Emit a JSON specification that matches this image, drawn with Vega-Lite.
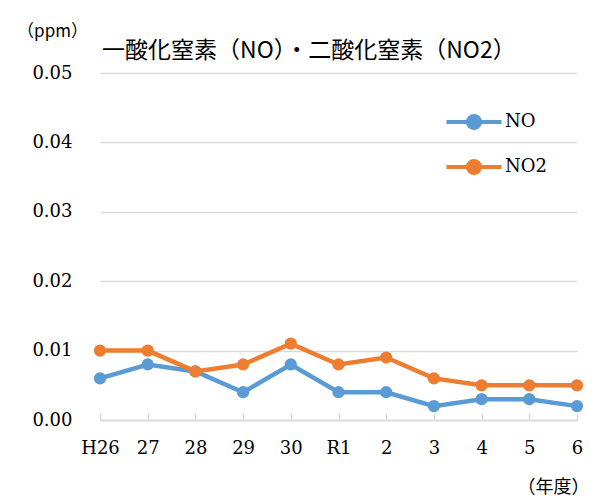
{
  "$schema": "https://vega.github.io/schema/vega-lite/v6.json",
  "width": 477,
  "height": 347,
  "autosize": {"type": "none"},
  "padding": {"left": 100, "top": 73, "right": 25, "bottom": 78},
  "background": "white",
  "title": {
    "text": "一酸化窒素（NO）・二酸化窒素（NO2）",
    "anchor": "start",
    "frame": "group",
    "font": "Noto Sans CJK JP",
    "fontSize": 23,
    "fontWeight": "normal",
    "color": "#000000",
    "offset": 8,
    "dx": 2,
    "dy": 49
  },
  "data": {
    "values": [
      {"year": "H26", "series": "NO", "value": 0.006},
      {"year": "27", "series": "NO", "value": 0.008},
      {"year": "28", "series": "NO", "value": 0.007},
      {"year": "29", "series": "NO", "value": 0.004},
      {"year": "30", "series": "NO", "value": 0.008},
      {"year": "R1", "series": "NO", "value": 0.004},
      {"year": "2", "series": "NO", "value": 0.004},
      {"year": "3", "series": "NO", "value": 0.002},
      {"year": "4", "series": "NO", "value": 0.003},
      {"year": "5", "series": "NO", "value": 0.003},
      {"year": "6", "series": "NO", "value": 0.002},
      {"year": "H26", "series": "NO2", "value": 0.010},
      {"year": "27", "series": "NO2", "value": 0.010},
      {"year": "28", "series": "NO2", "value": 0.007},
      {"year": "29", "series": "NO2", "value": 0.008},
      {"year": "30", "series": "NO2", "value": 0.011},
      {"year": "R1", "series": "NO2", "value": 0.008},
      {"year": "2", "series": "NO2", "value": 0.009},
      {"year": "3", "series": "NO2", "value": 0.006},
      {"year": "4", "series": "NO2", "value": 0.005},
      {"year": "5", "series": "NO2", "value": 0.005},
      {"year": "6", "series": "NO2", "value": 0.005}
    ]
  },
  "mark": {"type": "line", "strokeWidth": 4.5, "point": {"filled": true, "size": 150, "opacity": 1}},
  "encoding": {
    "x": {
      "field": "year",
      "type": "ordinal",
      "sort": null,
      "scale": {"type": "point", "padding": 0},
      "axis": {
        "title": "（年度）",
        "titleFont": "Noto Sans CJK JP",
        "titleFontSize": 18,
        "titleFontWeight": "normal",
        "titleColor": "#000000",
        "titleAngle": 0,
        "titleX": 453,
        "titleY": 67,
        "titleAlign": "center",
        "titleBaseline": "middle",
        "labelAngle": 0,
        "labelFont": "DejaVu Serif",
        "labelFontSize": 18,
        "labelColor": "#000000",
        "labelPadding": 26,
        "domainColor": "#d9d9d9",
        "domainWidth": 1.5,
        "ticks": true,
        "tickColor": "#d9d9d9",
        "tickWidth": 1.5,
        "tickSize": -7,
        "grid": false
      }
    },
    "y": {
      "field": "value",
      "type": "quantitative",
      "scale": {"domain": [0, 0.05], "nice": false},
      "axis": {
        "title": "（ppm）",
        "titleFont": "Noto Sans CJK JP",
        "titleFontSize": 17,
        "titleFontWeight": "normal",
        "titleColor": "#000000",
        "titleAngle": 0,
        "titleX": -48,
        "titleY": -42,
        "titleAlign": "center",
        "titleBaseline": "middle",
        "values": [0, 0.01, 0.02, 0.03, 0.04, 0.05],
        "format": ".2f",
        "labelFont": "DejaVu Serif",
        "labelFontSize": 18,
        "labelColor": "#000000",
        "labelPadding": 28,
        "domain": false,
        "ticks": false,
        "grid": true,
        "gridColor": "#d9d9d9",
        "gridWidth": 1.3
      }
    },
    "color": {
      "field": "series",
      "type": "nominal",
      "scale": {"domain": ["NO", "NO2"], "range": ["#5B9BD5", "#ED7D31"]},
      "legend": {
        "title": null,
        "orient": "none",
        "legendX": 362,
        "legendY": 37,
        "padding": 0,
        "symbolType": "M-2.75,0H2.75M0.6,0A0.6,0.6,0,1,1,-0.6,0A0.6,0.6,0,1,1,0.6,0",
        "symbolSize": 400,
        "symbolStrokeWidth": 4,
        "labelFont": "DejaVu Serif",
        "labelFontSize": 18,
        "labelColor": "#000000",
        "labelOffset": 19,
        "rowPadding": 17,
        "encode": {
          "symbols": {
            "update": {
              "fill": {"scale": "color", "field": "value"},
              "stroke": {"scale": "color", "field": "value"},
              "opacity": {"value": 1}
            }
          }
        }
      }
    }
  },
  "config": {"view": {"stroke": null}}
}
